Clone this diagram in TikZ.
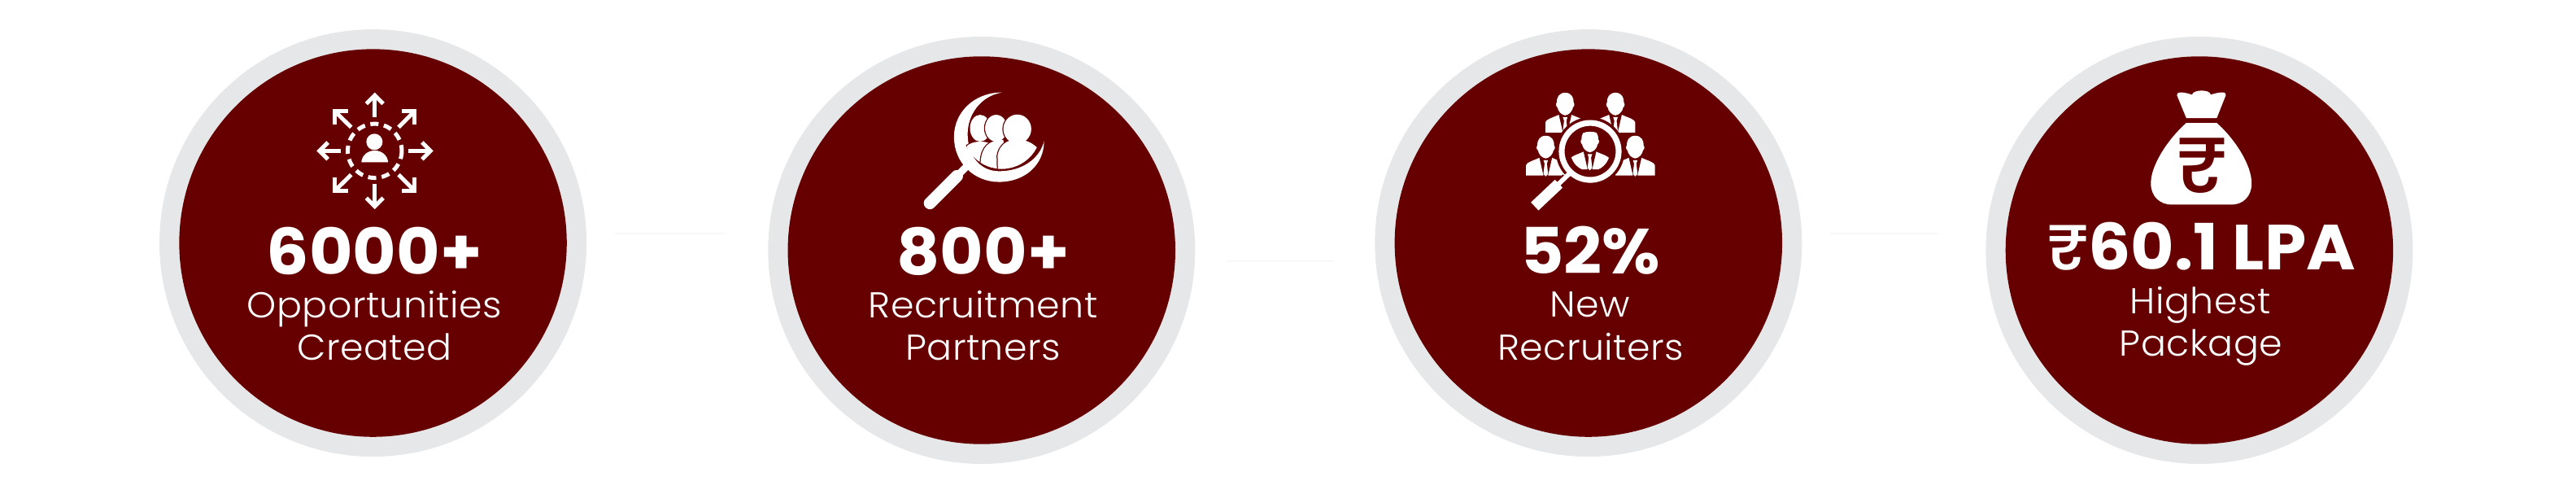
\documentclass[tikz,border=0pt]{standalone}
\usepackage{fontspec}
\setmainfont{Poppins}
\newfontfamily\headfont{Poppins}[UprightFont=* Bold,FakeStretch=1.05]
\newfontfamily\lblfont{Poppins}[UprightFont=* Light,LetterSpace=1,FakeStretch=1.04]
\newfontfamily\rupfont{Poppins}[UprightFont=* Medium,FakeStretch=1.05]
\definecolor{ringgrey}{HTML}{E6E7E9}
\definecolor{maroon}{HTML}{660000}
\definecolor{ghost}{HTML}{F8F8F8}
\tikzset{
  outerdisc/.style={circle,fill=ringgrey,minimum size=1470*0.0857pt,inner sep=0pt},
  innerdisc/.style={circle,fill=maroon,minimum size=1334*0.0857pt,inner sep=0pt},
  headtext/.style={text=white,anchor=base,inner sep=0pt,font=\headfont\fontsize{18.8}{20}\selectfont},
  lbltext/.style={text=white,anchor=base,inner sep=0pt,font=\lblfont\fontsize{10.6}{12}\selectfont},
  zoomunits/.style={x=0.0857pt,y=-0.0857pt},
  arrowstroke/.style={draw=white,line width=14*0.0857pt,miter limit=10},
  halo/.style={draw=maroon,line width=7*0.0857pt},
  ghostline/.style={draw=ghost,line width=6*0.0857pt},
}
% business figure in local units, head centre at origin
\newcommand{\suitman}{%
  \fill[white] (0,-42) .. controls (-22,-42) and (-30,-24) .. (-29,-8) .. controls (-33,-6) and (-32,6) .. (-27,8) .. controls (-24,22) and (-14,34) .. (0,36) .. controls (14,34) and (24,22) .. (27,8) .. controls (32,6) and (33,-6) .. (29,-8) .. controls (30,-24) and (22,-42) .. (0,-42) -- cycle;
  \fill[white] (-68,95) -- (-68,60) .. controls (-66,50) and (-50,46) .. (-22,34) -- (-8,95) -- cycle;
  \fill[white] (68,95) -- (68,60) .. controls (66,50) and (50,46) .. (22,34) -- (8,95) -- cycle;
  \fill[white] (-8,42) -- (8,42) -- (4,54) -- (8,90) -- (0,98) -- (-8,90) -- (-4,54) -- cycle;
}
\begin{document}
\begin{tikzpicture}[zoomunits]
\useasboundingbox (0,0) rectangle (3167*2.8,607*2.8);

%---------- faint lines between the cards
\coordinate (g1a) at (756*2.8,287*2.8);
\coordinate (g1b) at (890*2.8,287*2.8);
\coordinate (g2a) at (1508*2.8,321*2.8);
\coordinate (g2b) at (1640*2.8,321*2.8);
\coordinate (g3a) at (2250*2.8,287*2.8);
\coordinate (g3b) at (2384*2.8,287*2.8);
\draw[ghostline] (g1a) -- (g1b);
\draw[ghostline] (g2a) -- (g2b);
\draw[ghostline] (g3a) -- (g3b);

%---------- card 1
\begin{scope}[shift={(504,56)}]
\node[outerdisc] (o1) at (780,780) {};
\node[innerdisc] (i1) at (780,780) {};
\node[headtext] (h1) at (785,888) {6000+};
\node[lbltext] (la1) at (785,1037) {Opportunities};
\node[lbltext] (lb1) at (785,1182) {Created};
\draw[white,line width=14*0.0857pt,dash pattern=on 28*0.0857pt off 19*0.0857pt] (786,463) circle[radius=93];
\fill[white] (785,432) circle[radius=28];
\fill[white] (740,502) .. controls (742,478) and (762,462) .. (786,462) .. controls (810,462) and (830,478) .. (832,502) -- cycle;
\draw[arrowstroke] (786,347) -- (786,272);
\draw[arrowstroke] (757,301) -- (786,272) -- (815,301);
\draw[arrowstroke] (786,578) -- (786,654);
\draw[arrowstroke] (757,625) -- (786,654) -- (815,625);
\draw[arrowstroke] (670,463) -- (596,463);
\draw[arrowstroke] (625,434) -- (596,463) -- (625,492);
\draw[arrowstroke] (902,463) -- (978,463);
\draw[arrowstroke] (949,434) -- (978,463) -- (949,492);
\draw[arrowstroke] (868,382) -- (923,327);
\draw[arrowstroke] (878,327) -- (923,327) -- (923,372);
\draw[arrowstroke] (705,382) -- (649,327);
\draw[arrowstroke] (694,327) -- (649,327) -- (649,372);
\draw[arrowstroke] (705,545) -- (649,600);
\draw[arrowstroke] (694,600) -- (649,600) -- (649,555);
\draw[arrowstroke] (868,545) -- (923,600);
\draw[arrowstroke] (878,600) -- (923,600) -- (923,555);
\end{scope}

%---------- card 2
\begin{scope}[shift={(2604,56)}]
\node[outerdisc] (o2) at (775,805) {};
\node[innerdisc] (i2) at (775,805) {};
\node[headtext] (h2) at (780,888) {800+};
\node[lbltext] (la2) at (780,1037) {Recruitment};
\node[lbltext] (lb2) at (780,1182) {Partners};
\fill[white] (845,262) .. controls (750,262) and (680,330) .. (680,415) .. controls (680,505) and (750,570) .. (835,570) .. controls (925,570) and (990,510) .. (990,430) .. controls (975,490) and (915,533) .. (835,533) .. controls (770,533) and (727,480) .. (727,405) .. controls (727,340) and (770,275) .. (845,262) -- cycle;
\draw[white,line width=42*0.0857pt,line cap=round] (597,643) -- (690,550);
\draw[white,line width=25*0.0857pt] (690,550) -- (722,518);
\begin{scope}
\clip (845,390) circle[radius=135];
% left person
\draw[halo] (770,385) ellipse[x radius=35,y radius=46];
\draw[halo] (725,445) .. controls (745,430) and (780,425) .. (810,440) -- (810,560) -- (725,560) -- cycle;
\fill[white] (770,385) ellipse[x radius=35,y radius=46];
\fill[white] (725,445) .. controls (745,430) and (780,425) .. (810,440) -- (810,560) -- (725,560) -- cycle;
% middle person
\draw[halo] (825,385) ellipse[x radius=38,y radius=46];
\draw[halo] (772,500) .. controls (775,450) and (800,425) .. (850,425) -- (860,560) -- (772,560) -- cycle;
\fill[white] (825,385) ellipse[x radius=38,y radius=46];
\fill[white] (772,500) .. controls (775,450) and (800,425) .. (850,425) -- (860,560) -- (772,560) -- cycle;
% right person
\draw[halo] (898,388) ellipse[x radius=48,y radius=50];
\draw[halo] (832,560) -- (830,480) .. controls (835,445) and (860,428) .. (885,425) .. controls (930,420) and (970,440) .. (990,490) -- (990,560) -- cycle;
\fill[white] (898,388) ellipse[x radius=48,y radius=50];
\fill[white] (832,560) -- (830,480) .. controls (835,445) and (860,428) .. (885,425) .. controls (930,420) and (970,440) .. (990,490) -- (990,560) -- cycle;
\end{scope}
\end{scope}

%---------- card 3
\begin{scope}[shift={(4676,56)}]
\node[outerdisc] (o3) at (792,780) {};
\node[innerdisc] (i3) at (792,780) {};
\node[headtext] (h3) at (798,885) {52\%};
\node[lbltext] (la3) at (798,1035) {New};
\node[lbltext] (lb3) at (800,1182) {Recruiters};
\begin{scope}[shift={(712,305)}]\suitman\end{scope}
\begin{scope}[shift={(885,305)}]\suitman\end{scope}
\begin{scope}[shift={(645,453)}]\suitman\end{scope}
\begin{scope}[shift={(953,453)}]\suitman\end{scope}
\fill[maroon] (798,465) circle[radius=118];
\draw[white,line width=20*0.0857pt] (798,465) circle[radius=98];
\begin{scope}
\clip (798,465) circle[radius=68];
\begin{scope}[shift={(797,432)}]\suitman\end{scope}
\end{scope}
\draw[maroon,line width=22*0.0857pt] (712,552) -- (700,564);
\draw[white,line width=38*0.0857pt] (607,654) -- (690,576);
\draw[white,line width=16*0.0857pt] (685,581) -- (728,540);
\end{scope}

%---------- card 4
\begin{scope}[shift={(6776,56)}]
\node[outerdisc] (o4) at (795,805) {};
\node[innerdisc] (i4) at (795,805) {};
\node[headtext] (h4) at (801,873) {{\rupfont ₹}60.1 LPA};
\node[lbltext] (la4) at (798,1023) {Highest};
\node[lbltext] (lb4) at (801,1168) {Package};
\fill[white] (718,272) .. controls (716,260) and (735,258) .. (770,270) .. controls (772,252) and (832,250) .. (834,270) .. controls (870,258) and (890,260) .. (886,272) -- (855,350) -- (750,350) -- cycle;
\fill[white] (750,367) -- (855,367) .. controls (915,420) and (975,510) .. (975,575) .. controls (975,620) and (945,648) .. (905,648) -- (700,648) .. controls (660,648) and (628,620) .. (628,575) .. controls (628,510) and (690,420) .. (750,367) -- cycle;
\node[text=maroon,anchor=base,inner sep=0pt,font=\rupfont\fontsize{23}{26}\selectfont] (r4) at (802,605) {₹};
\end{scope}
\end{tikzpicture}
\end{document}
